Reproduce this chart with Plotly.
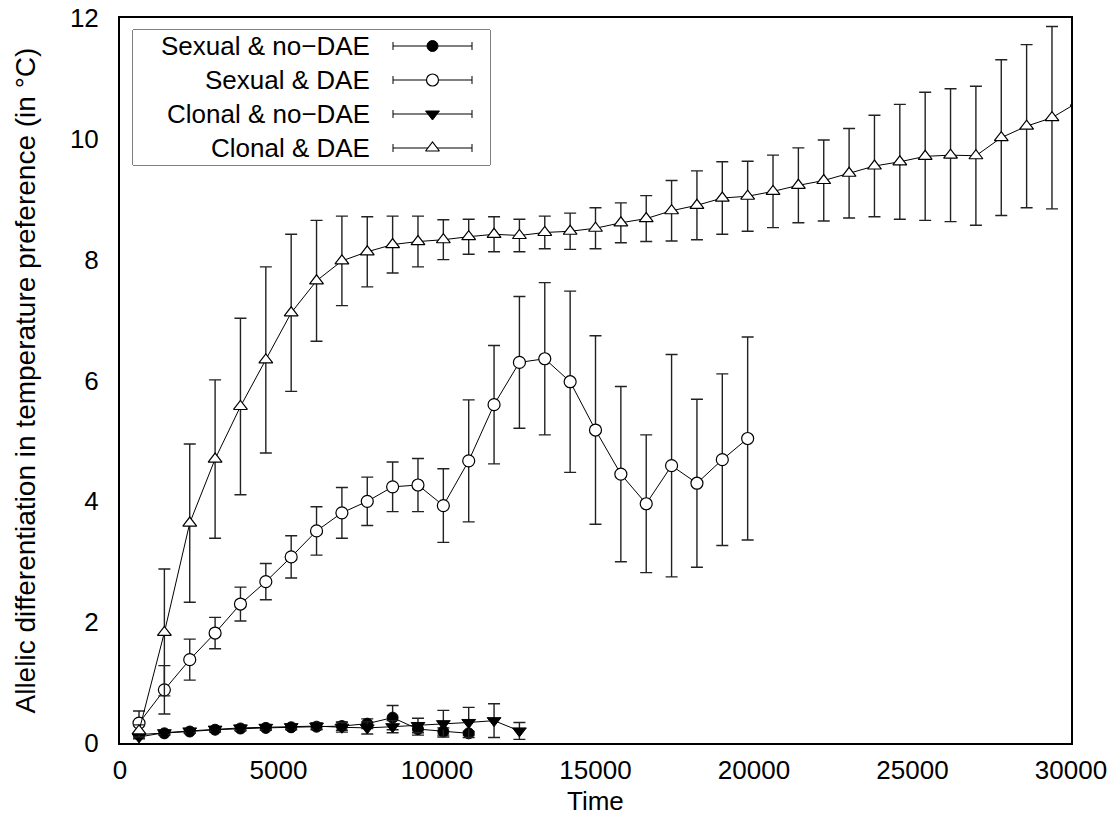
import plotly.graph_objects as go

# ---------------- data ----------------
x_sex_nodae = [600, 1400, 2200, 3000, 3800, 4600, 5400, 6200, 7000, 7800, 8600, 9400, 10200, 11000]
y_sex_nodae = [0.14, 0.16, 0.19, 0.22, 0.24, 0.25, 0.26, 0.27, 0.28, 0.32, 0.42, 0.23, 0.19, 0.16]
e_sex_nodae = [0.03, 0.03, 0.03, 0.04, 0.04, 0.04, 0.04, 0.05, 0.07, 0.08, 0.20, 0.10, 0.06, 0.03]

x_sex_dae = [600, 1400, 2200, 3000, 3800, 4600, 5400, 6200, 7000, 7800, 8600, 9400, 10200,
             11000, 11800, 12600, 13400, 14200, 15000, 15800, 16600, 17400, 18200, 19000, 19800]
y_sex_dae = [0.33, 0.88, 1.38, 1.82, 2.30, 2.67, 3.08, 3.51, 3.81, 4.00, 4.24, 4.27, 3.93,
             4.67, 5.60, 6.30, 6.36, 5.98, 5.18, 4.45, 3.96, 4.59, 4.30, 4.69, 5.04]
e_sex_dae = [0.20, 0.40, 0.34, 0.26, 0.28, 0.30, 0.35, 0.40, 0.42, 0.40, 0.41, 0.44, 0.61,
             1.01, 0.98, 1.09, 1.26, 1.50, 1.56, 1.45, 1.14, 1.84, 1.39, 1.42, 1.68]

x_clo_nodae = [600, 1400, 2200, 3000, 3800, 4600, 5400, 6200, 7000, 7800, 8600, 9400, 10200,
               11000, 11800, 12600]
y_clo_nodae = [0.10, 0.17, 0.20, 0.23, 0.25, 0.26, 0.27, 0.28, 0.26, 0.25, 0.27, 0.29, 0.32,
               0.34, 0.37, 0.20]
e_clo_nodae = [0.03, 0.03, 0.03, 0.03, 0.04, 0.04, 0.04, 0.05, 0.08, 0.10, 0.10, 0.12, 0.22,
               0.25, 0.28, 0.14]

x_clo_dae = [600, 1400, 2200, 3000, 3800, 4600, 5400, 6200, 7000, 7800, 8600, 9400, 10200,
             11000, 11800, 12600, 13400, 14200, 15000, 15800, 16600, 17400, 18200, 19000,
             19800, 20600, 21400, 22200, 23000, 23800, 24600, 25400, 26200, 27000, 27800,
             28600, 29400, 30200]
y_clo_dae = [0.20, 1.83, 3.64, 4.70, 5.57, 6.34, 7.12, 7.65, 7.98, 8.13, 8.25, 8.30, 8.33,
             8.38, 8.42, 8.40, 8.45, 8.47, 8.52, 8.61, 8.68, 8.81, 8.90, 9.02,
             9.05, 9.13, 9.23, 9.31, 9.43, 9.55, 9.62, 9.71, 9.73, 9.72, 10.02,
             10.21, 10.35, 10.60]
e_clo_dae = [0.10, 1.05, 1.31, 1.31, 1.46, 1.54, 1.30, 1.00, 0.74, 0.58, 0.47, 0.42, 0.33,
             0.29, 0.29, 0.27, 0.27, 0.30, 0.34, 0.33, 0.38, 0.50, 0.57, 0.60,
             0.58, 0.60, 0.62, 0.67, 0.74, 0.84, 0.95, 1.06, 1.10, 1.15, 1.29,
             1.35, 1.51, 1.50]

series_names = ["Sexual & no\u2212DAE", "Sexual & DAE", "Clonal & no\u2212DAE", "Clonal & DAE"]
x_ticks = [0, 5000, 10000, 15000, 20000, 25000, 30000]
y_ticks = [0, 2, 4, 6, 8, 10, 12]
x_title = "Time"
y_title = "Allelic differentiation in temperature preference (in \u00b0C)"

# ---------------- style ----------------
FONT = "Liberation Sans, Arial, Helvetica, sans-serif"
FS = 26
BLACK = "black"
ERR_COL = "#222222"

markers = [
    dict(symbol="circle", size=11, color=BLACK, line=dict(color=BLACK, width=1)),
    dict(symbol="circle", size=12, color="white", line=dict(color=BLACK, width=1.2)),
    dict(symbol="triangle-down", size=12, color=BLACK, line=dict(color=BLACK, width=1)),
    dict(symbol="triangle-up", size=12, color="white", line=dict(color=BLACK, width=1.2)),
]
data = [
    (x_sex_nodae, y_sex_nodae, e_sex_nodae),
    (x_sex_dae, y_sex_dae, e_sex_dae),
    (x_clo_nodae, y_clo_nodae, e_clo_nodae),
    (x_clo_dae, y_clo_dae, e_clo_dae),
]

fig = go.Figure()
for (xs, ys, es), mk, name in zip(data, markers, series_names):
    fig.add_trace(go.Scatter(
        x=xs, y=ys, name=name, mode="lines+markers",
        line=dict(color=BLACK, width=1),
        marker=mk,
        error_y=dict(type="data", array=es, visible=True, color=ERR_COL,
                     thickness=1.4, width=6),
        showlegend=False, xaxis="x", yaxis="y",
    ))

# ---------------- manual legend (gnuplot style: text left, sample right) ----------------
LEG_W, LEG_H = 357, 135          # legend box size in px
LEG_ROW0, LEG_DY = 16, 34        # first row centre and row spacing (px)
TXT_RIGHT = 239
SMP_MID, SMP_HALF = 299.5, 39.5
for i, (mk, name) in enumerate(zip(markers, series_names)):
    ry = LEG_ROW0 + i * LEG_DY
    fig.add_trace(go.Scatter(
        x=[SMP_MID], y=[ry], mode="markers", marker=mk,
        error_x=dict(type="data", array=[SMP_HALF], visible=True, color=BLACK,
                     thickness=1, width=4),
        showlegend=False, xaxis="x2", yaxis="y2", hoverinfo="skip",
    ))
    fig.add_annotation(x=TXT_RIGHT, y=ry, xref="x2", yref="y2", text=name,
                       showarrow=False, xanchor="right", yanchor="middle",
                       font=dict(family=FONT, size=FS, color=BLACK))

# body margin is removed by post_script, so the figure fills the window exactly
W, H = 1120, 830
ml, mr, mt, mb = 120, 49, 18, 87
pw, ph = W - ml - mr, H - mt - mb
box_x0, box_y0 = 13, 12           # legend box offset from plot-area top-left (px)
dx0 = box_x0 / pw
dx1 = (box_x0 + LEG_W) / pw
dy1 = 1 - box_y0 / ph
dy0 = 1 - (box_y0 + LEG_H) / ph

fig.add_shape(type="rect", xref="paper", yref="paper", x0=dx0, x1=dx1, y0=dy0, y1=dy1,
              line=dict(color=BLACK, width=1), fillcolor="white", layer="below")

fig.add_annotation(text=x_title, xref="paper", yref="paper", x=0.5, y=0, yshift=-58,
                   xanchor="center", yanchor="middle", showarrow=False,
                   font=dict(family=FONT, size=FS, color=BLACK))
fig.add_annotation(text=y_title, xref="paper", yref="paper", x=0, y=0.5, xshift=-95,
                   xanchor="center", yanchor="middle", showarrow=False, textangle=-90,
                   font=dict(family=FONT, size=28, color=BLACK))

fig.update_layout(
    width=W, height=H,
    margin=dict(l=ml, r=mr, t=mt, b=mb, pad=0, autoexpand=False),
    paper_bgcolor="white", plot_bgcolor="white",
    font=dict(family=FONT, size=FS, color=BLACK),
    showlegend=False,
    xaxis=dict(range=[0, 30000], tickvals=x_ticks, ticktext=[str(v) for v in x_ticks],
               showgrid=False, zeroline=False, ticks="", showline=True, mirror=True,
               linecolor=BLACK, linewidth=2, ticklabelstandoff=3, automargin=False,
               ticklabeloverflow="allow"),
    yaxis=dict(range=[0, 12], tickvals=y_ticks, ticktext=[str(v) for v in y_ticks],
               showgrid=False, zeroline=False, ticks="", showline=True, mirror=True,
               linecolor=BLACK, linewidth=2, ticklabelstandoff=14, automargin=False,
               ticklabeloverflow="allow"),
    xaxis2=dict(domain=[dx0, dx1], range=[0, LEG_W], visible=False, anchor="y2",
                fixedrange=True),
    yaxis2=dict(domain=[dy0, dy1], range=[LEG_H, 0], visible=False, anchor="x2",
                fixedrange=True),
)

fig.write_html("out.html",
               config={"displayModeBar": False},
               post_script="document.body.style.margin='0';document.body.style.overflow='hidden';")
